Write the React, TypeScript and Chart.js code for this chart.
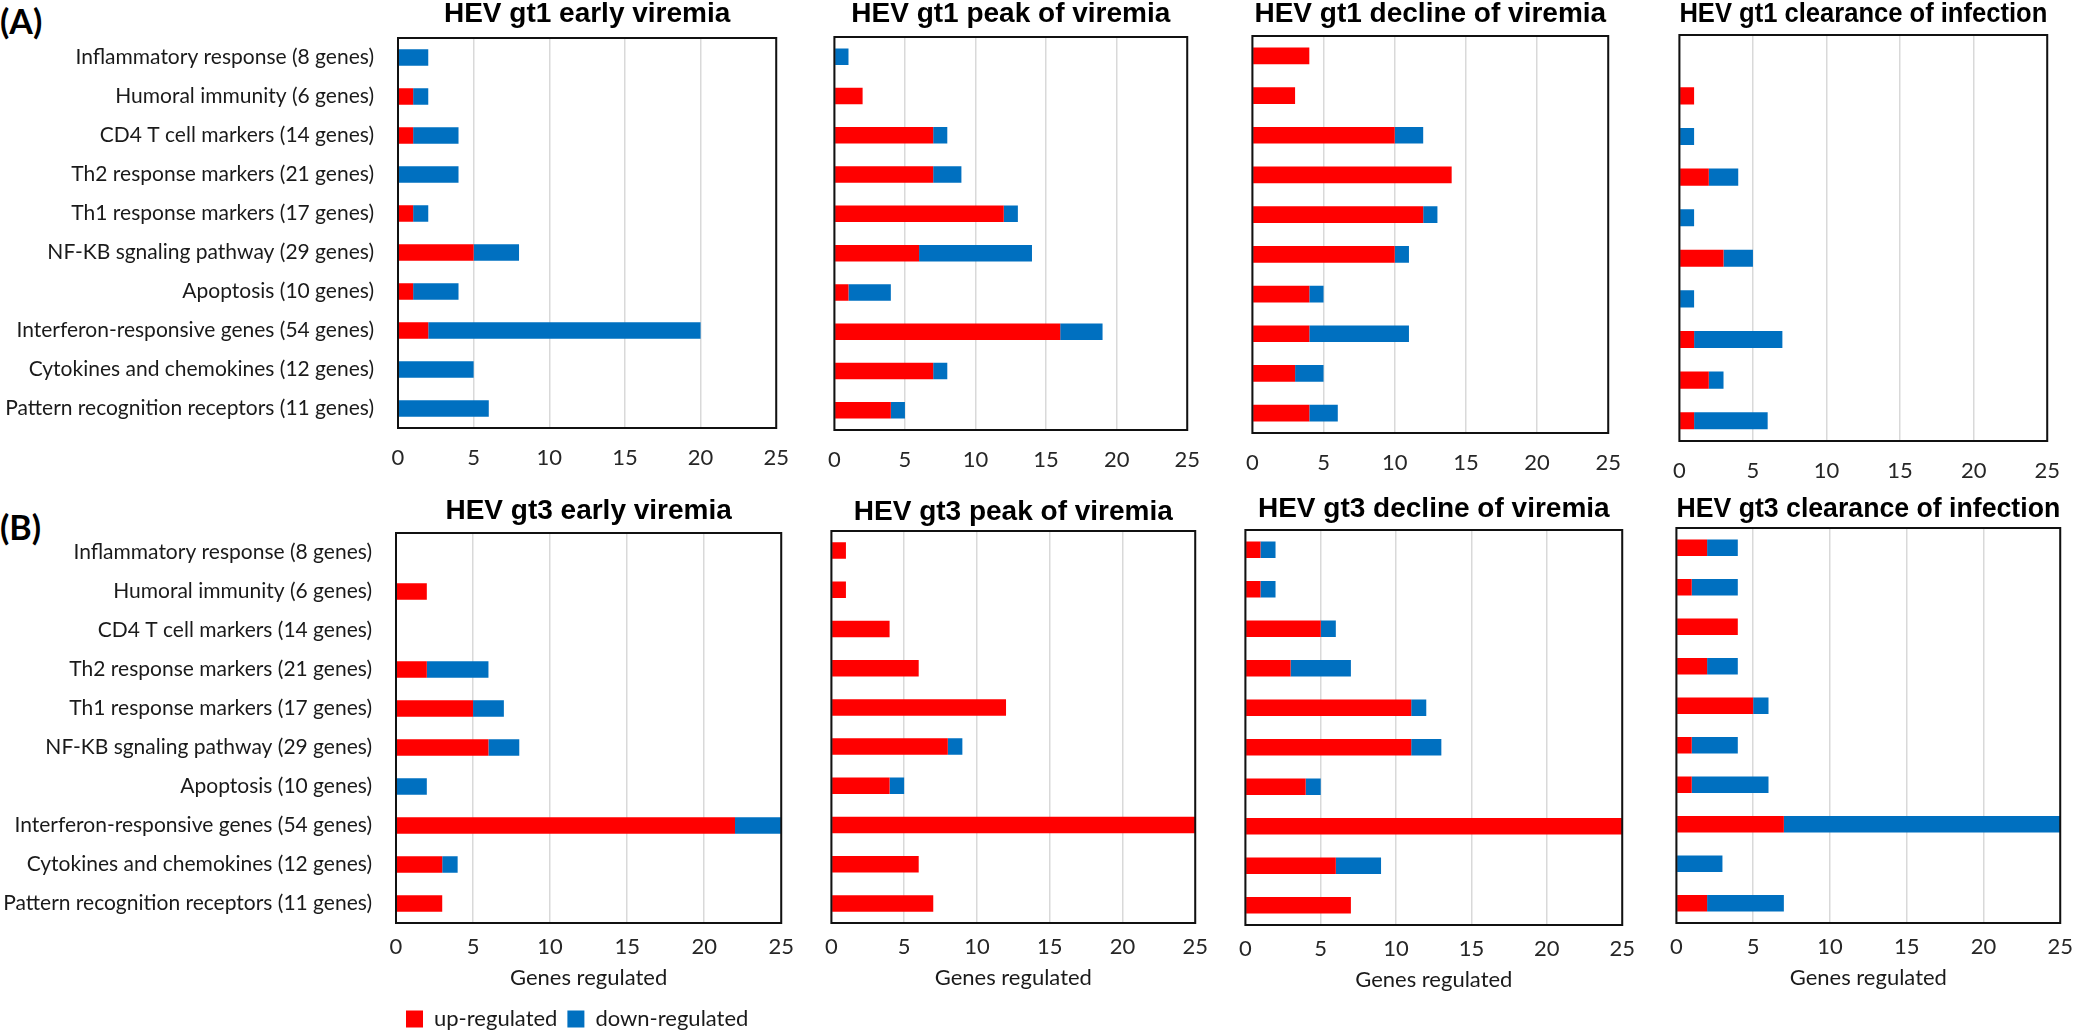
import React, { useEffect, useRef } from "react";
import { Chart, registerables } from "chart.js";

Chart.register(...registerables);

// ---------- DATA ----------
const categories = [
  "Inflammatory response (8 genes)",
  "Humoral immunity (6 genes)",
  "CD4 T cell markers (14 genes)",
  "Th2 response markers (21 genes)",
  "Th1 response markers (17 genes)",
  "NF-KB sgnaling pathway (29 genes)",
  "Apoptosis (10 genes)",
  "Interferon-responsive genes (54 genes)",
  "Cytokines and chemokines (12 genes)",
  "Pattern recognition receptors (11 genes)",
];

const panelTitles = [
  "HEV gt1 early viremia",
  "HEV gt1 peak of viremia",
  "HEV gt1 decline of viremia",
  "HEV gt1 clearance of infection",
  "HEV gt3 early viremia",
  "HEV gt3 peak of viremia",
  "HEV gt3 decline of viremia",
  "HEV gt3 clearance of infection",
];

const seriesNames = ["up-regulated", "down-regulated"];
const xAxisTitle = "Genes regulated";
const xTicksMin = 0;
const xTicksMax = 25;
const xTickStep = 5;
const rowLabels = ["(A)", "(B)"];

const gt1EarlyUp = [0, 1, 1, 0, 1, 5, 1, 2, 0, 0];
const gt1EarlyDown = [2, 1, 3, 4, 1, 3, 3, 18, 5, 6];
const gt1PeakUp = [0, 2, 7, 7, 12, 6, 1, 16, 7, 4];
const gt1PeakDown = [1, 0, 1, 2, 1, 8, 3, 3, 1, 1];
const gt1DeclineUp = [4, 3, 10, 14, 12, 10, 4, 4, 3, 4];
const gt1DeclineDown = [0, 0, 2, 0, 1, 1, 1, 7, 2, 2];
const gt1ClearanceUp = [0, 1, 0, 2, 0, 3, 0, 1, 2, 1];
const gt1ClearanceDown = [0, 0, 1, 2, 1, 2, 1, 6, 1, 5];

const gt3EarlyUp = [0, 2, 0, 2, 5, 6, 0, 22, 3, 3];
const gt3EarlyDown = [0, 0, 0, 4, 2, 2, 2, 3, 1, 0];
const gt3PeakUp = [1, 1, 4, 6, 12, 8, 4, 25, 6, 7];
const gt3PeakDown = [0, 0, 0, 0, 0, 1, 1, 0, 0, 0];
const gt3DeclineUp = [1, 1, 5, 3, 11, 11, 4, 25, 6, 7];
const gt3DeclineDown = [1, 1, 1, 4, 1, 2, 1, 0, 3, 0];
const gt3ClearanceUp = [2, 1, 4, 2, 5, 1, 1, 7, 0, 2];
const gt3ClearanceDown = [2, 3, 0, 2, 1, 3, 5, 18, 3, 5];

const upSeries = [
  gt1EarlyUp, gt1PeakUp, gt1DeclineUp, gt1ClearanceUp,
  gt3EarlyUp, gt3PeakUp, gt3DeclineUp, gt3ClearanceUp,
];
const downSeries = [
  gt1EarlyDown, gt1PeakDown, gt1DeclineDown, gt1ClearanceDown,
  gt3EarlyDown, gt3PeakDown, gt3DeclineDown, gt3ClearanceDown,
];

// ---------- LAYOUT (plot-area rectangles, px) ----------
const layout = [
  { L: 398, R: 792, T: 38, B: 428, titleY: 14 },
  { L: 821, R: 1203, T: 37, B: 430, titleY: 14 },
  { L: 1239, R: 1624, T: 36, B: 433, titleY: 14 },
  { L: 1666, R: 2063, T: 35, B: 441, titleY: 14 },
  { L: 396, R: 791, T: 533, B: 923, titleY: 511 },
  { L: 824, R: 1205, T: 531, B: 923, titleY: 512 },
  { L: 1238, R: 1632, T: 530, B: 925, titleY: 509 },
  { L: 1669, R: 2070, T: 528, B: 923, titleY: 509 },
];

const UP_COLOR = "#FF0000";
const DOWN_COLOR = "#0070C0";
const TEXT_FONT = "Lato";
const TITLE_FONT = "Liberation Sans";
const TITLE_SIZE = 28;
const RIGHT_PAD = 14;

const framePlugin = {
  id: "frame",
  afterDatasetsDraw(chart: any) {
    const { ctx, chartArea: a } = chart;
    ctx.save();
    ctx.strokeStyle = "#111";
    ctx.lineWidth = 2;
    ctx.strokeRect(a.left, a.top, a.right - a.left, a.bottom - a.top);
    ctx.restore();
  },
};

function Panel({ index }: { index: number }) {
  const ref = useRef<HTMLCanvasElement | null>(null);
  const g = layout[index];
  const row = index < 4 ? 0 : 1;
  const col = index % 4;
  const isFirst = col === 0;
  const isBottomRow = row === 1;
  const hasLegend = isBottomRow && isFirst;
  const legendPad = 10;
  const legendFont = 22;

  const canvasLeft = isFirst ? 0 : g.L - 10;
  const canvasTop = g.titleY - TITLE_SIZE / 2;
  const canvasRight = g.R + RIGHT_PAD;
  const xH = isBottomRow ? 75 : 46;
  const legendH = hasLegend ? legendFont + 2 * legendPad : 0;
  const width = canvasRight - canvasLeft;
  const height = g.B - canvasTop + xH + legendH;
  const titlePadBottom = g.T - canvasTop - TITLE_SIZE;

  useEffect(() => {
    if (!ref.current) return;
    const chart = new Chart(ref.current, {
      type: "bar",
      data: {
        labels: categories,
        datasets: [
          {
            label: seriesNames[0],
            data: upSeries[index],
            backgroundColor: UP_COLOR,
            borderWidth: 0,
            barPercentage: 0.42,
            categoryPercentage: 1,
          },
          {
            label: seriesNames[1],
            data: downSeries[index],
            backgroundColor: DOWN_COLOR,
            borderWidth: 0,
            barPercentage: 0.42,
            categoryPercentage: 1,
          },
        ],
      },
      options: {
        indexAxis: "y",
        animation: false,
        responsive: false,
        maintainAspectRatio: false,
        devicePixelRatio: 1,
        events: [],
        layout: {
          padding: {
            left: isFirst ? 0 : g.L - canvasLeft,
            right: RIGHT_PAD,
            top: 0,
            bottom: 0,
          },
        },
        scales: {
          x: {
            stacked: true,
            min: xTicksMin,
            max: xTicksMax,
            ticks: {
              stepSize: xTickStep,
              font: { family: TEXT_FONT, size: 22 },
              color: "#262626",
              padding: isBottomRow ? 11 : 17,
              maxRotation: 0,
            },
            grid: { color: "#d9d9d9", lineWidth: 1.5, drawTicks: false },
            border: { display: false },
            title: isBottomRow
              ? {
                  display: true,
                  text: xAxisTitle,
                  font: { family: TEXT_FONT, size: 22 },
                  color: "#1a1a1a",
                  padding: { top: 0, bottom: 7 },
                }
              : { display: false },
            afterFit: (s: any) => {
              s.height = xH;
            },
          },
          y: {
            stacked: true,
            display: isFirst,
            grid: { display: false },
            border: { display: false },
            ticks: {
              font: { family: TEXT_FONT, size: 21 },
              color: "#1a1a1a",
              padding: 16,
              autoSkip: false,
            },
            afterFit: (s: any) => {
              if (isFirst) s.width = g.L;
            },
          },
        },
        plugins: {
          title: {
            display: true,
            text: panelTitles[index],
            fullSize: false,
            font: { family: TITLE_FONT, size: TITLE_SIZE, weight: "bold", lineHeight: 1 },
            color: "#000",
            padding: { top: 0, bottom: titlePadBottom },
          },
          legend: {
            display: hasLegend,
            position: "bottom",
            align: "start",
            fullSize: false,
            labels: {
              font: { family: TEXT_FONT, size: legendFont },
              color: "#1a1a1a",
              boxWidth: 17,
              boxHeight: 17,
              padding: legendPad,
            },
          },
          tooltip: { enabled: false },
        },
      },
      plugins: [framePlugin],
    } as any);
    return () => chart.destroy();
  }, [index]);

  return (
    <canvas
      ref={ref}
      width={width}
      height={height}
      style={{
        position: "absolute",
        left: canvasLeft,
        top: canvasTop,
        width,
        height,
      }}
    />
  );
}

export default function App() {
  return (
    <div
      style={{
        position: "absolute",
        left: 0,
        top: 0,
        width: 2081,
        height: 1030,
        overflow: "hidden",
        background: "#fff",
      }}
    >
      <div
        style={{
          position: "absolute",
          left: 0,
          top: 4,
          font: `bold 34px ${TEXT_FONT}`,
          lineHeight: "34px",
          color: "#000",
        }}
      >
        {rowLabels[0]}
      </div>
      <div
        style={{
          position: "absolute",
          left: 0,
          top: 510,
          font: `bold 34px ${TEXT_FONT}`,
          lineHeight: "34px",
          color: "#000",
        }}
      >
        {rowLabels[1]}
      </div>
      {layout.map((_, i) => (
        <Panel key={i} index={i} />
      ))}
    </div>
  );
}
